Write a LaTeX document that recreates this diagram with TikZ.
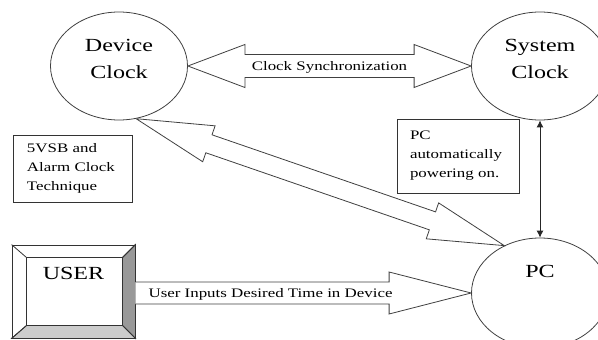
\documentclass[tikz,border=0pt]{standalone}
\usepackage{fontspec}
\setmainfont{Liberation Serif}[FakeStretch=1.3]
\usetikzlibrary{shapes.geometric,calc,arrows.meta}

\begin{document}
\begin{tikzpicture}[x=1pt,y=-1pt]
    \tikzset{clock/.style = {shape=ellipse,draw=black!75,line width=0.8pt,inner sep=0pt,minimum width=137pt,minimum height=108pt}}
    \tikzset{bigtext/.style = {font=\fontsize{18.5}{26.5}\selectfont,align=center,inner sep=0pt}}
    \tikzset{smalltext/.style = {font=\fontsize{13}{19}\selectfont,inner sep=0pt}}
    \tikzset{note/.style = {draw=black!80,line width=0.8pt,align=left,font=\fontsize{13}{19}\selectfont,inner ysep=4pt}}
    \tikzset{fat/.style = {draw=black!75,fill=white,line width=0.8pt,line join=miter}}
    \useasboundingbox (0,0) rectangle (598,340);
    % clocks and pc
    \node[clock] (dev) at (119,66) {};
    \node[clock] (sys) at (540,66) {};
    \node[clock,minimum height=110pt] (pc) at (540,293) {};
    \node[bigtext] (devtxt) at ([yshift=7pt]dev.center) {Device\\Clock};
    \node[bigtext] (systxt) at ([yshift=7pt]sys.center) {System\\Clock};
    \node[bigtext] (pctxt) at ([yshift=22pt]pc.center) {PC};
    % user box
    \node[draw=black!80,line width=0.8pt,minimum width=123pt,minimum height=93pt,inner sep=0pt] (user) at (73.5,291.5) {};
    \coordinate (uin1) at ($(user.north west)+(15,13)$);
    \coordinate (uin2) at ($(user.south east)+(-13,-13)$);
    \filldraw[draw=black!80,fill=black!40,line width=0.8pt] (user.north east) -- (user.south east) -- (uin2) -- (uin2 |- uin1) -- cycle;
    \filldraw[draw=black!80,fill=black!20,line width=0.8pt] (user.south west) -- (user.south east) -- (uin2) -- (uin1 |- uin2) -- cycle;
    \draw[black!80,line width=0.8pt] (user.north west) -- (uin1) (user.north east) -- (uin2 |- uin1) (user.south west) -- (uin1 |- uin2);
    \draw[black!80,line width=0.8pt] (uin1) rectangle (uin2);
    \node[bigtext] (usertxt) at ([yshift=18.5pt]user.center) {USER};
    % notes
    \node[note,text width=91pt,inner xsep=14pt,minimum height=67pt] (vsb) at (72.5,168.5) {5VSB and\\Alarm Clock\\Technique};
    \node[note,text width=96pt,inner xsep=13pt,minimum height=74pt] (auto) at (458,156) {PC\\automatically\\powering on.};
    % clock synchronization
    \coordinate (cs1) at ($(dev.east)!57pt!(sys.west)$);
    \coordinate (cs2) at ($(sys.west)!57pt!(dev.east)$);
    \draw[fat] (dev.east) -- ($(cs1)!21.5pt!90:(sys.west)$) -- ($(cs1)!11.5pt!90:(sys.west)$)
        -- ($(cs2)!11.5pt!90:(sys.west)$) -- ($(cs2)!21.5pt!90:(sys.west)$) -- (sys.west)
        -- ($(cs2)!21.5pt!270:(sys.west)$) -- ($(cs2)!11.5pt!270:(sys.west)$)
        -- ($(cs1)!11.5pt!270:(sys.west)$) -- ($(cs1)!21.5pt!270:(sys.west)$) -- cycle;
    \coordinate (csmid) at ($(dev.east)!0.5!(sys.west)$);
    \node[smalltext,anchor=base] (cslabel) at ([yshift=-4pt]csmid) {Clock Synchronization};
    % device clock <-> pc
    \coordinate (dp1) at ($(dev.-72)!77pt!(pc.127)$);
    \coordinate (dp2) at ($(pc.127)!76pt!(dev.-72)$);
    \draw[fat] (dev.-72) -- ($(dp1)!19pt!90:(pc.127)$) -- ($(dp1)!9.5pt!90:(pc.127)$)
        -- ($(dp2)!9.5pt!90:(pc.127)$) -- ($(dp2)!19pt!90:(pc.127)$) -- (pc.127)
        -- ($(dp2)!19pt!270:(pc.127)$) -- ($(dp2)!9.5pt!270:(pc.127)$)
        -- ($(dp1)!9.5pt!270:(pc.127)$) -- ($(dp1)!19pt!270:(pc.127)$) -- cycle;
    % user -> pc
    \coordinate (ut) at (user.east |- pc.west);
    \coordinate (uh) at ($(pc.west)!82pt!(ut)$);
    \draw[fat] ($(ut)!11pt!90:(pc.west)$) -- ($(uh)!11pt!90:(pc.west)$) -- ($(uh)!21pt!90:(pc.west)$)
        -- (pc.west) -- ($(uh)!21pt!270:(pc.west)$) -- ($(uh)!11pt!270:(pc.west)$) -- ($(ut)!11pt!270:(pc.west)$);
    \node[smalltext,anchor=base west] (uilabel) at ([xshift=13pt,yshift=-4pt]ut) {User Inputs Desired Time in Device};
    % system clock <-> pc
    \draw[{Latex[length=7pt,width=7pt]}-{Latex[length=7pt,width=7pt]},line width=0.9pt,black!85] (sys.south) -- (pc.north);
\end{tikzpicture}
\end{document}
